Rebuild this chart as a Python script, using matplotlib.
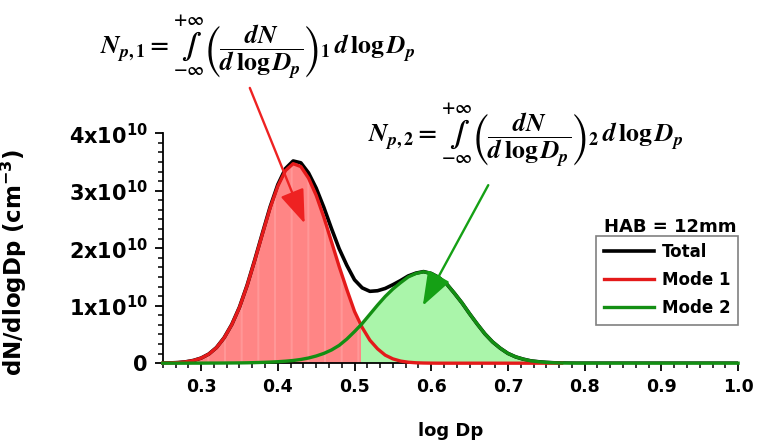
import numpy as np
import matplotlib
matplotlib.use("Agg")
import matplotlib.pyplot as plt
from matplotlib.patches import Rectangle
from matplotlib.ticker import AutoMinorLocator, FixedLocator, FuncFormatter

plt.rcParams['font.family'] = ['DejaVu Sans']
plt.rcParams['font.weight'] = 'bold'
plt.rcParams['hatch.linewidth'] = 1.5

# log Dp grid, step 0.01 from 0.25 to 1.00
log_dp = np.round(np.arange(0.25, 1.0001, 0.01), 2)

# dN/dlogDp in units of 1e10 cm^-3
mode1 = [0.002, 0.005, 0.011, 0.024, 0.047, 0.088, 0.157, 0.27, 0.44, 0.67,
         0.97, 1.35, 1.79, 2.25, 2.70, 3.08, 3.35, 3.47, 3.42, 3.22,
         2.92, 2.54, 2.11, 1.68, 1.28, 0.90, 0.62, 0.40, 0.25, 0.14,
         0.075, 0.037, 0.017, 0.007, 0.003, 0.001,
         0, 0, 0, 0, 0, 0, 0, 0, 0, 0, 0, 0, 0, 0, 0, 0, 0]
mode2 = [0, 0, 0, 0, 0.001, 0.001, 0.002, 0.002, 0.003, 0.004,
         0.005, 0.007, 0.01, 0.014, 0.019, 0.026, 0.035, 0.047, 0.065, 0.09,
         0.125, 0.17, 0.23, 0.31, 0.42, 0.55, 0.69, 0.85, 1.01, 1.16,
         1.29, 1.40, 1.50, 1.56, 1.59, 1.56, 1.49, 1.38, 1.22, 1.05,
         0.86, 0.68, 0.51, 0.37, 0.26, 0.17, 0.11, 0.07, 0.04, 0.025,
         0.014, 0.007, 0.003, 0.001,
         0, 0, 0, 0, 0, 0, 0, 0, 0, 0, 0, 0, 0, 0, 0, 0, 0, 0, 0, 0, 0, 0]

y_ticks = [0, 1e10, 2e10, 3e10, 4e10]
y_labels = ['0', r'$\mathbf{1x10^{10}}$', r'$\mathbf{2x10^{10}}$',
            r'$\mathbf{3x10^{10}}$', r'$\mathbf{4x10^{10}}$']
x_ticks = [0.3, 0.4, 0.5, 0.6, 0.7, 0.8, 0.9, 1.0]

m1 = np.zeros(len(log_dp))
m1[:len(mode1)] = np.array(mode1) * 1e10
m2 = np.array(mode2) * 1e10
total = m1 + m2

# where mode 2 overtakes mode 1
diff = m1 - m2
i = np.where((diff[:-1] > 0) & (diff[1:] <= 0))[0][0]
x_cross = log_dp[i] + diff[i] / (diff[i] - diff[i + 1]) * (log_dp[i + 1] - log_dp[i])

fig, ax = plt.subplots(figsize=(7.57, 4.44), dpi=100)
fig.subplots_adjust(left=0.215, right=0.975, bottom=0.182, top=0.70)

red_line = '#e41a1a'
green_line = '#138f13'

# shading: the larger mode owns the area beneath it
red_fill = ax.fill_between(log_dp, 0, m1, facecolor='#ff8585', edgecolor='#ff9797',
                           hatch='|', linewidth=0, zorder=1)
red_fill.set_clip_path(Rectangle((0.2, 0), x_cross - 0.2, 5e10, transform=ax.transData))
green_fill = ax.fill_between(log_dp, 0, m2, facecolor='#aaf5aa', linewidth=0, zorder=1)
green_fill.set_clip_path(Rectangle((x_cross, 0), 1.0, 5e10, transform=ax.transData))

ax.plot(log_dp, total, color='black', lw=2.6, zorder=3, label='Total')
ax.plot(log_dp[:len(mode1)], m1[:len(mode1)], color=red_line, lw=2.4, zorder=4,
        label='Mode 1', clip_on=False)
ax.plot(log_dp, m2, color=green_line, lw=2.4, zorder=5, label='Mode 2', clip_on=False)

ax.set_xlim(0.25, 1.0)
ax.set_ylim(0, 4e10)
ax.xaxis.set_major_locator(FixedLocator(x_ticks))
ax.xaxis.set_major_formatter(FuncFormatter(lambda v, p: f'{v:.1f}'))
ax.xaxis.set_minor_locator(AutoMinorLocator(6))
ax.yaxis.set_major_locator(FixedLocator(y_ticks))
ax.set_yticklabels(y_labels)
ax.yaxis.set_minor_locator(AutoMinorLocator(6))

for side in ['top', 'right']:
    ax.spines[side].set_visible(False)
for side in ['left', 'bottom']:
    ax.spines[side].set_linewidth(1.3)
ax.tick_params(which='major', direction='out', length=6, width=1.3, pad=5)
ax.tick_params(which='minor', direction='out', length=3.5, width=1.1)
ax.tick_params(axis='x', labelsize=12.5)
ax.tick_params(axis='y', labelsize=15)

ax.set_xlabel('log Dp', fontsize=13, fontweight='bold')
ax.xaxis.set_label_coords(0.5, -0.255)
ax.set_ylabel(r'dN/dlogDp (cm$^{\mathbf{-3}}$)', fontsize=16.5, fontweight='bold')
ax.yaxis.set_label_coords(-0.232, 0.44)

leg = ax.legend(loc='upper right', bbox_to_anchor=(1.0, 0.555), fontsize=12,
                handlelength=3.0, handletextpad=0.5, borderpad=0.45, labelspacing=0.6,
                fancybox=False, framealpha=1, edgecolor='#808080', borderaxespad=0)
leg.get_frame().set_linewidth(1.2)
fig.text(0.885, 0.489, 'HAB = 12mm', ha='center', va='center', fontsize=13, fontweight='bold')

eq1 = (r'$N_{p,1} = \underset{-\infty}{\overset{+\infty}{\int}}\left(\dfrac{dN}{d\,\log D_p}\right)_1'
       r'\,d\,\log D_p$')
eq2 = (r'$N_{p,2} = \underset{-\infty}{\overset{+\infty}{\int}}\left(\dfrac{dN}{d\,\log D_p}\right)_2'
       r'\,d\,\log D_p$')
fig.text(0.340, 0.893, eq1, ha='center', va='center', fontsize=18.5,
         fontweight='normal', math_fontfamily='stix')
fig.text(0.694, 0.695, eq2, ha='center', va='center', fontsize=18.5,
         fontweight='normal', math_fontfamily='stix')

arrow_kw = dict(arrowstyle='-|>,head_length=1.1,head_width=0.4', lw=1.7, mutation_scale=19,
                shrinkA=0, shrinkB=0)
ax.annotate('', xy=(0.435, 2.43e10), xycoords='data',
            xytext=(0.330, 0.802), textcoords='figure fraction',
            arrowprops=dict(color='#ee2222', **arrow_kw), zorder=6)
ax.annotate('', xy=(0.589, 1.0e10), xycoords='data',
            xytext=(0.645, 0.583), textcoords='figure fraction',
            arrowprops=dict(color='#15a015', **arrow_kw), zorder=6)

fig.savefig('out.png', dpi=100)
